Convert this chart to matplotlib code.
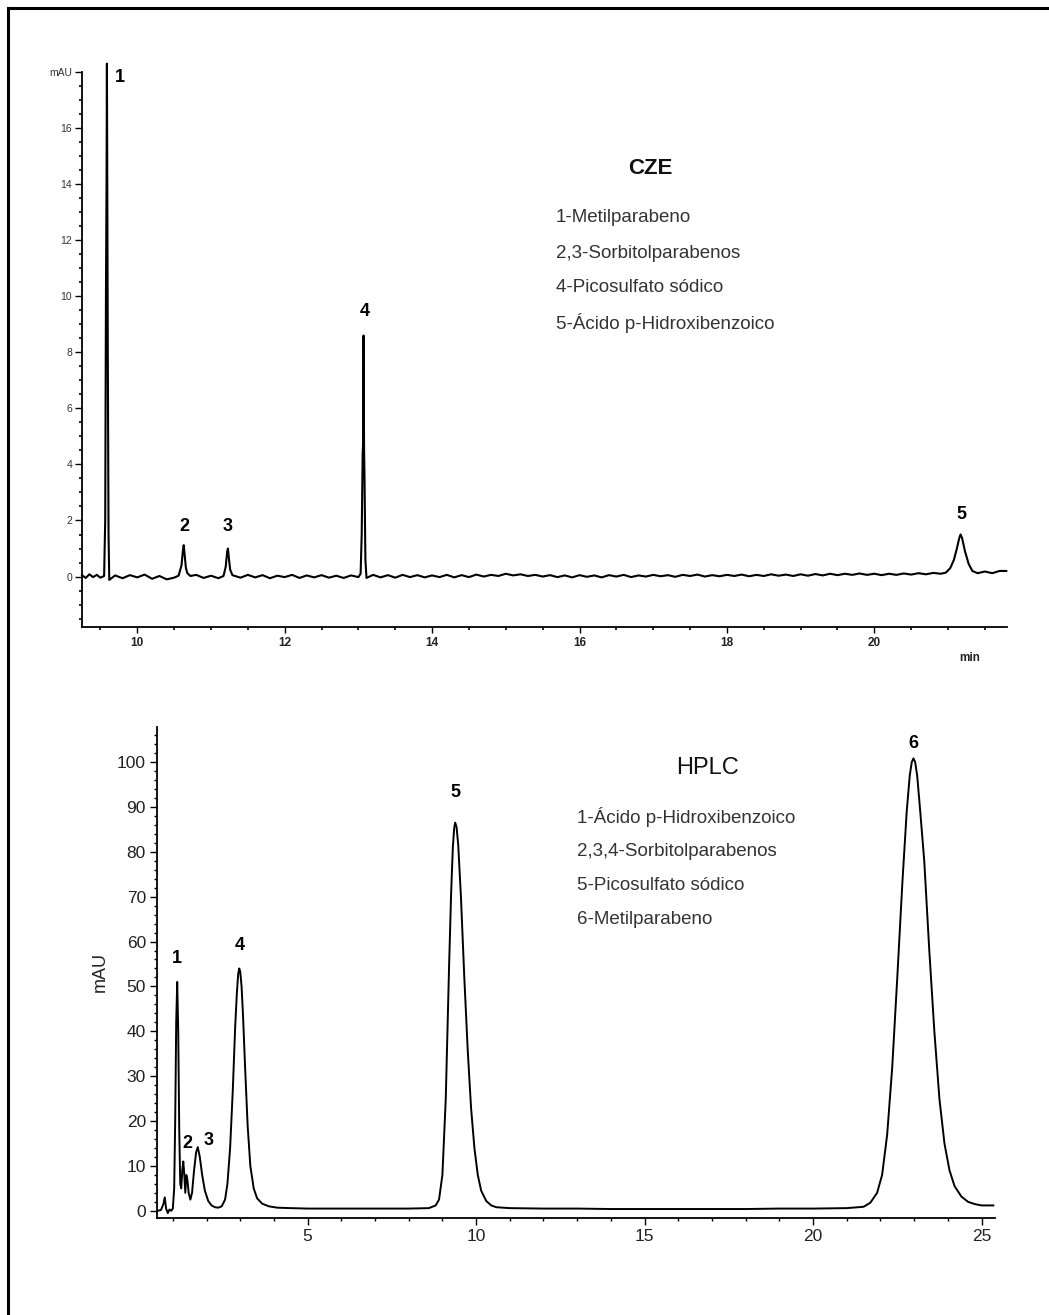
import matplotlib
matplotlib.use("Agg")
import matplotlib.pyplot as plt
from matplotlib.ticker import MultipleLocator, FixedLocator
from matplotlib.lines import Line2D

plt.rcParams['font.family'] = ['Liberation Sans', 'DejaVu Sans']

# CZE electropherogram (min, mAU)
cze_t = [9.25, 9.30, 9.35, 9.40, 9.45, 9.50, 9.55,
         9.565, 9.575, 9.583, 9.588, 9.593, 9.60, 9.61, 9.62,
         9.70, 9.80, 9.90, 10.00, 10.10, 10.20, 10.30, 10.40, 10.50, 10.56,
         10.60, 10.62, 10.63, 10.645, 10.66, 10.68, 10.72,
         10.80, 10.90, 11.00, 11.10, 11.17,
         11.20, 11.22, 11.23, 11.245, 11.26, 11.29,
         11.40, 11.50, 11.60, 11.70, 11.80, 11.90, 12.00, 12.10, 12.20, 12.30,
         12.40, 12.50, 12.60, 12.70, 12.80, 12.90, 13.00, 13.03,
         13.045, 13.058, 13.063, 13.07, 13.077, 13.083, 13.095, 13.11,
         13.20, 13.30, 13.40, 13.50, 13.60, 13.70, 13.80, 13.90, 14.00, 14.10,
         14.20, 14.30, 14.40, 14.50, 14.60, 14.70, 14.80, 14.90, 15.00, 15.10,
         15.20, 15.30, 15.40, 15.50, 15.60, 15.70, 15.80, 15.90, 16.00, 16.10,
         16.20, 16.30, 16.40, 16.50, 16.60, 16.70, 16.80, 16.90, 17.00, 17.10,
         17.20, 17.30, 17.40, 17.50, 17.60, 17.70, 17.80, 17.90, 18.00, 18.10,
         18.20, 18.30, 18.40, 18.50, 18.60, 18.70, 18.80, 18.90, 19.00, 19.10,
         19.20, 19.30, 19.40, 19.50, 19.60, 19.70, 19.80, 19.90, 20.00, 20.10,
         20.20, 20.30, 20.40, 20.50, 20.60, 20.70, 20.80, 20.90, 20.97,
         21.03, 21.08, 21.12, 21.15, 21.17, 21.19, 21.23, 21.28, 21.33, 21.40,
         21.50, 21.60, 21.70, 21.79]
cze_v = [0.05, -0.05, 0.08, -0.02, 0.06, -0.04, 0.02,
         2.0, 10.0, 14.1, 18.3, 14.1, 8.0, 1.5, -0.12,
         0.04, -0.06, 0.05, -0.03, 0.07, -0.08, 0.02, -0.10, -0.04, 0.03,
         0.4, 0.95, 1.12, 0.7, 0.3, 0.12, 0.02,
         0.06, -0.05, 0.03, -0.06, 0.02,
         0.35, 0.9, 1.0, 0.6, 0.25, 0.05,
         -0.04, 0.06, -0.03, 0.05, -0.06, 0.03, -0.02, 0.06, -0.05, 0.04,
         -0.03, 0.05, -0.04, 0.03, -0.05, 0.04, -0.02, 0.1,
         1.5, 4.4, 4.7, 8.6, 4.6, 3.5, 0.6, -0.05,
         0.06, -0.03, 0.05, -0.04, 0.06, -0.02, 0.05, -0.03, 0.04, -0.02,
         0.06, -0.03, 0.05, -0.02, 0.07, 0.0, 0.06, 0.02, 0.10, 0.04,
         0.08, 0.02, 0.06, 0.0, 0.05, -0.02, 0.04, -0.03, 0.05, -0.01,
         0.04, -0.03, 0.05, 0.0, 0.06, -0.02, 0.04, 0.0, 0.06, 0.01,
         0.05, -0.01, 0.06, 0.02, 0.07, 0.0, 0.05, 0.01, 0.06, 0.02,
         0.07, 0.01, 0.06, 0.02, 0.08, 0.03, 0.07, 0.02, 0.08, 0.03,
         0.09, 0.04, 0.10, 0.05, 0.10, 0.06, 0.11, 0.06, 0.10, 0.05,
         0.10, 0.06, 0.11, 0.07, 0.12, 0.08, 0.13, 0.10, 0.14,
         0.3, 0.6, 1.0, 1.35, 1.5, 1.38, 0.9, 0.45, 0.2, 0.12,
         0.18, 0.12, 0.2, 0.2]

# HPLC chromatogram (min, mAU)
hplc_t = [0.55, 0.65, 0.72, 0.76, 0.80, 0.85, 0.90, 0.95, 1.00, 1.04, 1.07,
          1.10, 1.13, 1.16, 1.19, 1.22, 1.25, 1.28, 1.31, 1.34, 1.37, 1.40,
          1.43, 1.47, 1.52, 1.57, 1.63, 1.69, 1.74, 1.80, 1.87, 1.95, 2.05,
          2.15, 2.25, 2.35, 2.45, 2.55, 2.62, 2.70, 2.78, 2.85, 2.90, 2.94,
          2.97, 3.00, 3.04, 3.08, 3.15, 3.22, 3.30, 3.40, 3.50, 3.65, 3.85,
          4.1, 4.5, 5.0, 6.0, 7.0, 8.0, 8.6, 8.8, 8.9, 9.0, 9.1, 9.2, 9.26,
          9.31, 9.35, 9.38, 9.42, 9.47, 9.55, 9.65, 9.75, 9.85, 9.95, 10.05,
          10.15, 10.3, 10.45, 10.6, 11.0, 12.0, 13.0, 14.0, 15.0, 16.0, 17.0,
          18.0, 19.0, 20.0, 21.0, 21.5, 21.7, 21.9, 22.05, 22.2, 22.35, 22.5,
          22.65, 22.78, 22.87, 22.93, 22.98, 23.03, 23.09, 23.17, 23.3,
          23.45, 23.6, 23.75, 23.9, 24.05, 24.2, 24.4, 24.6, 24.8, 25.0, 25.35]
hplc_v = [0.0, 0.2, 1.5, 3.0, 0.5, -0.5, 0.3, 0.0, 0.5, 5, 20,
          42, 51, 40, 18, 6, 5, 9, 11, 8, 4, 8,
          7, 4, 2.5, 4, 9, 13, 14.2, 12, 8, 4.5, 2.2,
          1.2, 0.8, 0.7, 1.0, 2.5, 6, 14, 27, 41, 48.5, 52.8,
          54, 53.3, 50, 44, 31, 19, 10, 5, 2.8, 1.6, 1.0,
          0.7, 0.6, 0.5, 0.5, 0.5, 0.5, 0.6, 1.2, 2.5, 8, 25, 55, 71,
          81, 85.3, 86.5, 85.5, 81.5, 70, 52, 36, 23, 14, 8,
          4.5, 2.2, 1.2, 0.8, 0.6, 0.5, 0.5, 0.4, 0.4, 0.4, 0.4,
          0.4, 0.5, 0.5, 0.6, 0.9, 1.8, 4, 8, 17, 32, 52,
          73, 89, 97, 100, 100.8, 100, 97, 90, 78,
          58, 40, 25, 15, 9, 5.5, 3.2, 2.0, 1.5, 1.2, 1.2]

cze_peak_names = ['1', '2', '3', '4', '5']
cze_peak_t = [9.77, 10.64, 11.23, 13.08, 21.18]
cze_peak_v = [17.8, 1.79, 1.79, 9.46, 2.2]
hplc_peak_names = ['1', '2', '3', '4', '5', '6']
hplc_peak_t = [1.13, 1.42, 2.05, 2.99, 9.38, 22.97]
hplc_peak_v = [56.3, 15.1, 15.6, 59.1, 93.1, 104.2]

cze_legend = ['1-Metilparabeno', '2,3-Sorbitolparabenos',
              '4-Picosulfato sódico', '5-Ácido p-Hidroxibenzoico']
hplc_legend = ['1-Ácido p-Hidroxibenzoico', '2,3,4-Sorbitolparabenos',
               '5-Picosulfato sódico', '6-Metilparabeno']

W, H = 1049, 1315
fig = plt.figure(figsize=(W / 100, H / 100), dpi=100)


def fx(px):
    return px / W


def fy(py):
    # pixel row from top of image -> figure fraction
    return 1 - py / H


# frame lines (left + top)
fig.add_artist(Line2D([fx(8), fx(8)], [0, fy(8)], color='black', lw=2.2))
fig.add_artist(Line2D([fx(8), 1], [fy(8), fy(8)], color='black', lw=2.2))

#######################################################################################################################
# CZE
ax1 = fig.add_axes([fx(82), fy(627), fx(1007 - 82), (627 - 72) / H])
ax1.plot(cze_t, cze_v, color='black', lw=1.5, clip_on=False)
ax1.set_xlim(9.25, 21.8)
ax1.set_ylim(-1.8, 18)
for s in ['top', 'right']:
    ax1.spines[s].set_visible(False)
ax1.spines['left'].set_linewidth(1.3)
ax1.spines['bottom'].set_linewidth(1.3)
ax1.yaxis.set_major_locator(FixedLocator([0, 2, 4, 6, 8, 10, 12, 14, 16, 18]))
ax1.set_yticklabels(['0', '2', '4', '6', '8', '10', '12', '14', '16', 'mAU'])
ax1.yaxis.set_minor_locator(MultipleLocator(0.5))
ax1.xaxis.set_major_locator(FixedLocator([10, 12, 14, 16, 18, 20]))
ax1.xaxis.set_minor_locator(MultipleLocator(0.5))
ax1.tick_params(axis='y', which='major', length=5, width=1, labelsize=7.5, labelcolor='#333333', pad=2)
ax1.tick_params(axis='x', which='major', length=4, width=1, labelsize=8.5, labelcolor='#222222', pad=3)
ax1.tick_params(which='minor', length=2.5, width=1.2)
for lb in ax1.get_xticklabels():
    lb.set_fontweight('bold')
ax1.text(21.3, -2.9, 'min', fontsize=8.5, fontweight='bold', color='#222222', ha='center', va='center')

for n, x, y in zip(cze_peak_names, cze_peak_t, cze_peak_v):
    ax1.text(x, y, n, fontsize=13, fontweight='bold', ha='center', va='center')

fig.text(fx(650), fy(168), 'CZE', fontsize=16, fontweight='bold', ha='center', va='center', color='#111111')
for i, s in enumerate(cze_legend):
    fig.text(fx(556), fy(218 + 35 * i), s, fontsize=13.5, ha='left', va='center', color='#333333')

#######################################################################################################################
# HPLC
ax2 = fig.add_axes([fx(157), fy(1218), fx(995 - 157), (1218 - 727) / H])
ax2.plot(hplc_t, hplc_v, color='black', lw=1.4)
ax2.set_xlim(0.53, 25.4)
ax2.set_ylim(-1.6, 107.8)
for s in ['top', 'right']:
    ax2.spines[s].set_visible(False)
ax2.spines['left'].set_linewidth(1.3)
ax2.spines['bottom'].set_linewidth(1.3)
ax2.yaxis.set_major_locator(MultipleLocator(10))
ax2.yaxis.set_minor_locator(MultipleLocator(2))
ax2.xaxis.set_major_locator(MultipleLocator(5))
ax2.xaxis.set_minor_locator(MultipleLocator(1))
ax2.tick_params(which='major', length=5, width=1, labelsize=12.5, labelcolor='#222222', pad=3)
ax2.tick_params(which='minor', length=2.5, width=1)
ax2.set_ylabel('mAU', fontsize=13, color='#222222', labelpad=6)

for n, x, y in zip(hplc_peak_names, hplc_peak_t, hplc_peak_v):
    ax2.text(x, y, n, fontsize=13, fontweight='bold', ha='center', va='center')

fig.text(fx(708), fy(768), 'HPLC', fontsize=17, ha='center', va='center', color='#111111')
for i, s in enumerate(hplc_legend):
    fig.text(fx(577), fy(817 + 34 * i), s, fontsize=13.5, ha='left', va='center', color='#333333')

plt.savefig('out.png', dpi=100)
